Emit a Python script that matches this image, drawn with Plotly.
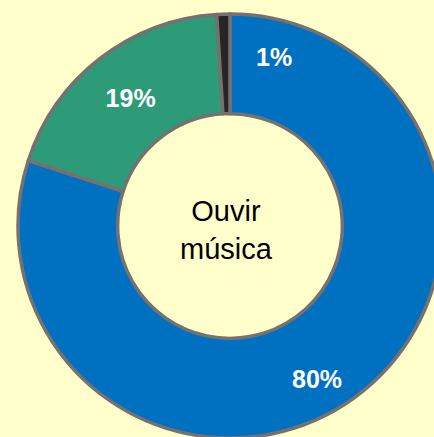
import plotly.graph_objects as go

categories = ["Sim", "Não", "Não sabe"]
values = [80, 19, 1]
colors = ["#0070C0", "#2E9B78", "#262626"]
center_text = "Ouvir<br>música"

W, H = 442, 440
total = sum(values)
pct = [f"{round(v / total * 100)}%" for v in values]

fig = go.Figure(go.Pie(
    labels=categories,
    values=values,
    hole=0.53,
    sort=False,
    direction="clockwise",
    rotation=0,
    marker=dict(colors=colors, line=dict(color="#767171", width=3.5)),
    text=["", pct[1], ""],
    textinfo="text",
    textposition="inside",
    insidetextorientation="horizontal",
    textfont=dict(family="Liberation Sans, Arial", size=25, color="white", weight="bold"),
    domain=dict(x=[18 / W, 1.0], y=[1 - 438 / H, 1 - 14 / H]),
    showlegend=False,
    hoverinfo="label+percent",
))

common = dict(xref="paper", yref="paper", showarrow=False, xanchor="center", yanchor="middle")
fig.add_annotation(text=center_text, x=227 / W, y=1 - 230 / H,
                   font=dict(family="Liberation Sans, Arial", size=29, color="black"), **common)
fig.add_annotation(text=f"<b>{pct[2]}</b>", x=274 / W, y=1 - 57 / H,
                   font=dict(family="Liberation Sans, Arial", size=25, color="white"), **common)
fig.add_annotation(text=f"<b>{pct[0]}</b>", x=317 / W, y=1 - 379 / H,
                   font=dict(family="Liberation Sans, Arial", size=25, color="white"), **common)

fig.update_layout(
    width=W, height=H,
    margin=dict(l=0, r=0, t=0, b=0),
    paper_bgcolor="#FFFFCC",
    plot_bgcolor="#FFFFCC",
)
fig.write_html(
    "out.html",
    config={"displayModeBar": False},
    post_script="document.body.style.margin='0';document.body.style.overflow='hidden';"
                "document.documentElement.style.overflow='hidden';"
                "document.body.style.background='#FFFFCC';",
)
